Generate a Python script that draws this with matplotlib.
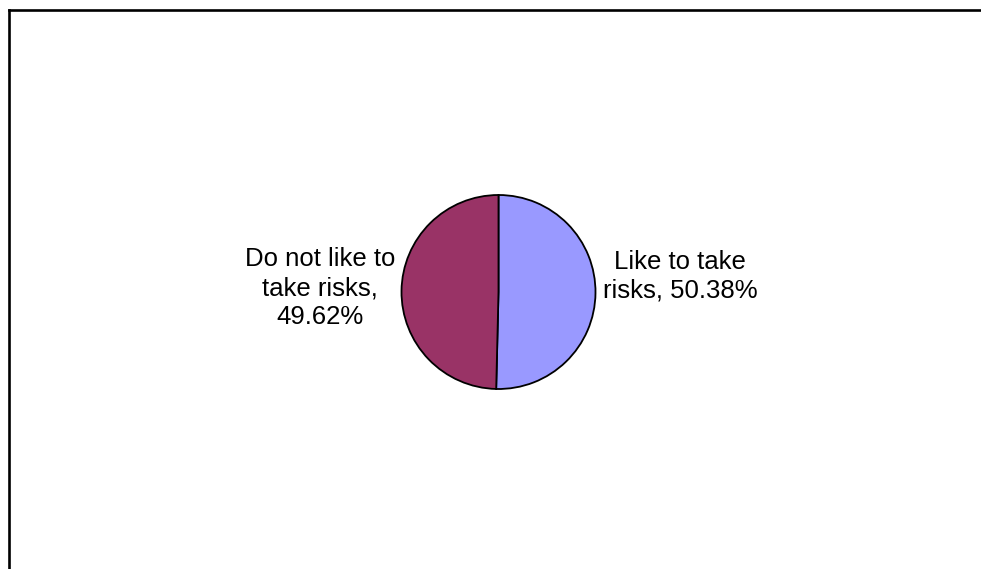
import matplotlib
matplotlib.use("Agg")
import matplotlib.pyplot as plt
from matplotlib.lines import Line2D

# data
categories = ["Like to take risks", "Do not like to take risks"]
shares = [50.38, 49.62]
labels = ["Like to take\nrisks, 50.38%", "Do not like to\ntake risks,\n49.62%"]
colors = ["#9999FF", "#993366"]

plt.rcParams['font.family'] = ['Liberation Sans', 'DejaVu Sans']

W, H = 981, 569
fig = plt.figure(figsize=(W / 100, H / 100), dpi=100)
fig.patch.set_facecolor("white")

# chart area frame (cropped on the right and bottom)
fig.add_artist(Line2D([8.7 / W, 1.0], [1 - 10 / H, 1 - 10 / H], color="black", lw=1.9))
fig.add_artist(Line2D([8.7 / W, 8.7 / W], [1 - 10 / H, 0.0], color="black", lw=1.9))

cx, cy, r = 498.5, 292, 97
ax = fig.add_axes([(cx - r) / W, (H - cy - r) / H, 2 * r / W, 2 * r / H])
wedges, _ = ax.pie(shares, colors=colors, startangle=90, counterclock=False,
                   wedgeprops=dict(edgecolor="black", linewidth=1.3))
ax.set_xlim(-1, 1)
ax.set_ylim(-1, 1)
ax.set_aspect("equal")
ax.axis("off")

# label positions in pie radius units
label_pos = [(1.87, 0.16), (-1.84, 0.04)]
for lab, (x, y) in zip(labels, label_pos):
    ax.text(x, y, lab, ha="center", va="center", fontsize=18.5,
            linespacing=1.26, color="black", clip_on=False)

fig.savefig("out.png", dpi=100)
